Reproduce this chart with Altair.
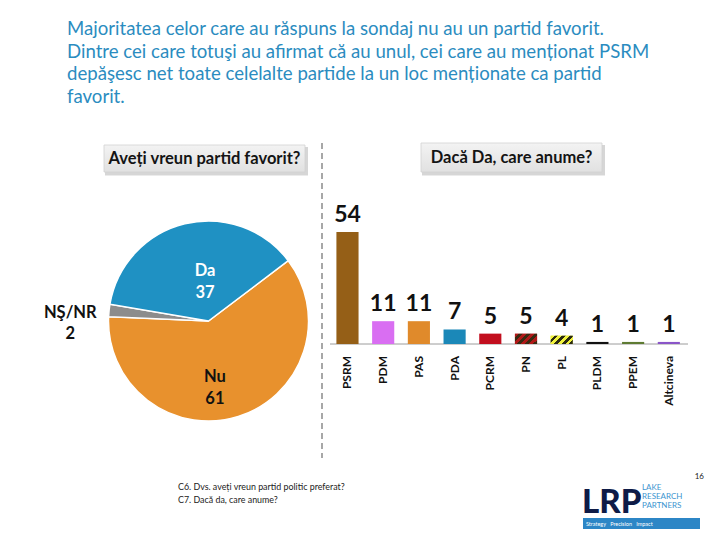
import math
import altair as alt
import pandas as pd

# ---------------- data ----------------
title_lines = [
    "Majoritatea celor care au răspuns la sondaj nu au un partid favorit.",
    "Dintre cei care totuşi au afirmat că au unul, cei care au menționat PSRM",
    "depăşesc net toate celelalte partide la un loc menționate ca partid",
    "favorit.",
]
left_header = "Aveți vreun partid favorit?"
right_header = "Dacă Da, care anume?"

pie_labels = ["Nu", "NŞ/NR", "Da"]
pie_values = [61, 2, 37]
pie_colors = ["#E8912D", "#8C8C8C", "#1F91C3"]

parties = ["PSRM", "PDM", "PAS", "PDA", "PCRM", "PN", "PL", "PLDM", "PPEM", "Altcineva"]
party_values = [54, 11, 11, 7, 5, 5, 4, 1, 1, 1]
party_colors = ["#955F17", "#D96EF2", "#E08A2B", "#1B88B8", "#C20E1E",
                "#A81616", "#EEF03A", "#111111", "#5E7B33", "#8A55C8"]

foot_lines = ["C6. Dvs. aveți vreun partid politic preferat?", "C7. Dacă da, care anume?"]
page_number = "16"
tagline = "Strategy\u00a0\u00a0\u00a0Precision\u00a0\u00a0\u00a0Impact"

FONT = "Lato"
W, H = 704, 526


def px(v):
    # page coordinate -> chart coordinate (page has 8px margin)
    return v - 8


one = pd.DataFrame({"k": [0]})
base = alt.Chart(one)

layers = []

# ---------------- title ----------------
layers.append(
    base.mark_text(align="left", baseline="alphabetic", font=FONT, fontSize=18.6,
                   color="#2B8CC0", lineHeight=22.7)
    .encode(x=alt.value(px(67)), y=alt.value(px(35)), text=alt.value(title_lines))
)


# ---------------- header boxes ----------------
box_grad = {"gradient": "linear", "x1": 0, "y1": 0, "x2": 0, "y2": 1,
            "stops": [{"offset": 0, "color": "#F3F3F3"}, {"offset": 1, "color": "#E1E1E1"}]}


def header(x0, y0, x1, y1, label):
    out = []
    out.append(base.mark_rect(fill="#8A8A8A", opacity=0.35).encode(
        x=alt.value(px(x0 + 1)), x2=alt.value(px(x1 + 3)),
        y=alt.value(px(y0 + 2)), y2=alt.value(px(y1 + 3.5))))
    out.append(base.mark_rect(fill=box_grad, stroke="#D2D2D2", strokeWidth=0.8).encode(
        x=alt.value(px(x0)), x2=alt.value(px(x1)),
        y=alt.value(px(y0)), y2=alt.value(px(y1))))
    out.append(base.mark_text(font=FONT, fontSize=16.5, fontWeight="bold", color="#141414",
                              align="center", baseline="middle").encode(
        x=alt.value(px((x0 + x1) / 2)), y=alt.value(px((y0 + y1) / 2)), text=alt.value(label)))
    return out


layers += header(104, 145, 305, 172, left_header)
layers += header(421, 143, 602, 172, right_header)

# dashed divider
layers.append(
    base.mark_rule(color="#8A8A8A", strokeDash=[6, 4], strokeWidth=1.5)
    .encode(x=alt.value(px(322)), y=alt.value(px(143)), y2=alt.value(px(458)))
)

# ---------------- pie ----------------
pie_df = pd.DataFrame({"label": pie_labels, "value": pie_values,
                       "order": list(range(len(pie_labels)))})
START = math.radians(52.9)
theta = alt.Theta("value:Q", stack=True,
                  scale=alt.Scale(range=[START, START + 2 * math.pi]))
pie_base = alt.Chart(pie_df).encode(
    theta=theta, order=alt.Order("order:Q"),
    x=alt.value(px(208.5)), y=alt.value(px(321)))

layers.append(
    pie_base.mark_arc(outerRadius=100, stroke="white", strokeWidth=1.5)
    .encode(color=alt.Color("label:N", scale=alt.Scale(domain=pie_labels, range=pie_colors),
                            legend=None))
)

pie_txt = pie_base.transform_calculate(txt="datum.label + '\\n' + datum.value")


def pie_label(which, radius, dx, dy, color):
    return pie_txt.mark_text(radius=radius, dx=dx, dy=dy, font=FONT, fontSize=16.5,
                             fontWeight="bold", color=color, lineBreak="\n",
                             lineHeight=21.7, align="center", baseline="middle").encode(
        text=alt.condition(f"datum.label == '{which}'", "txt:N", alt.value("")))


layers.append(pie_label("Da", 51.5, 8.7, 0, "#FFFFFF"))
layers.append(pie_label("Nu", 58.6, -11, 0, "#111111"))
layers.append(pie_label("NŞ/NR", 139, 0, 6.5, "#111111"))

# ---------------- bars ----------------
bar_df = pd.DataFrame({"party": parties, "value": party_values})
xs = alt.X("party:N", sort=parties, axis=None,
           scale=alt.Scale(domain=parties, range=[px(325.7), px(690.6)],
                           paddingInner=0.38, paddingOuter=0.3))
ys = alt.Y("value:Q", axis=None,
           scale=alt.Scale(domain=[0, 54], range=[px(344), px(232)], nice=False))

layers.append(
    base.mark_rule(color="#9C9C9C", strokeWidth=1)
    .encode(x=alt.value(px(330)), x2=alt.value(px(688)), y=alt.value(px(344)))
)

layers.append(
    alt.Chart(bar_df).mark_bar().encode(
        x=xs, y=ys,
        color=alt.Color("party:N", scale=alt.Scale(domain=parties, range=party_colors),
                        legend=None))
)


def stripes(c1, c2, n, gx, gy):
    stops = []
    for i in range(2 * n):
        col = c1 if i % 2 == 0 else c2
        stops.append({"offset": i / (2 * n), "color": col})
        stops.append({"offset": (i + 1) / (2 * n), "color": col})
    return {"gradient": "linear", "x1": 0, "y1": 0, "x2": gx, "y2": gy, "stops": stops}


layers.append(
    alt.Chart(bar_df).transform_filter("datum.party == 'PN'")
    .mark_bar(fill=stripes("#B01818", "#3A2A12", 4, 1.203, 0.569)).encode(x=xs, y=ys)
)
layers.append(
    alt.Chart(bar_df).transform_filter("datum.party == 'PL'")
    .mark_bar(fill=stripes("#F0F23C", "#2A2A10", 4, 1.206, 0.455)).encode(x=xs, y=ys)
)

layers.append(
    alt.Chart(bar_df).mark_text(font=FONT, fontSize=23, fontWeight="bold",
                                baseline="alphabetic", align="center", dy=-10,
                                color="#111111")
    .encode(x=xs, y=ys, text="value:Q")
)
layers.append(
    alt.Chart(bar_df).mark_text(font=FONT, fontSize=12, fontWeight="bold", angle=270,
                                align="right", baseline="middle", color="#111111")
    .encode(x=xs, y=alt.value(px(356)), text="party:N")
)

# ---------------- footnotes & logo ----------------
layers.append(
    base.mark_text(align="left", baseline="alphabetic", font=FONT, fontSize=8.9,
                   color="#222222", lineHeight=12.5)
    .encode(x=alt.value(px(178)), y=alt.value(px(490)), text=alt.value(foot_lines))
)
layers.append(
    base.mark_text(align="right", baseline="alphabetic", font=FONT, fontSize=8,
                   color="#222222")
    .encode(x=alt.value(px(704)), y=alt.value(px(479)), text=alt.value(page_number))
)
layers.append(
    base.mark_text(align="left", baseline="alphabetic", font=FONT, fontSize=33,
                   fontWeight=900, color="#0E1B47")
    .encode(x=alt.value(px(582)), y=alt.value(px(513)), text=alt.value("LRP"))
)
layers.append(
    base.mark_text(align="left", baseline="alphabetic", font=FONT, fontSize=8,
                   color="#3D95D0", lineHeight=9)
    .encode(x=alt.value(px(642)), y=alt.value(px(490)),
            text=alt.value(["LAKE", "RESEARCH", "PARTNERS"]))
)
layers.append(
    base.mark_rect(fill="#2C86C6").encode(
        x=alt.value(px(583)), x2=alt.value(px(700)),
        y=alt.value(px(518)), y2=alt.value(px(529)))
)
layers.append(
    base.mark_text(align="left", baseline="middle", font=FONT, fontSize=5.5,
                   color="#FFFFFF")
    .encode(x=alt.value(px(586)), y=alt.value(px(523.5)), text=alt.value(tagline))
)

chart = (
    alt.layer(*layers)
    .resolve_scale(color="independent")
    .properties(width=W, height=H, padding=0,
                autosize=alt.AutoSizeParams(type="none"), background="#FFFFFF")
    .configure_view(stroke=None)
)

chart.save("out.html", embed_options={"renderer": "svg", "actions": False})
